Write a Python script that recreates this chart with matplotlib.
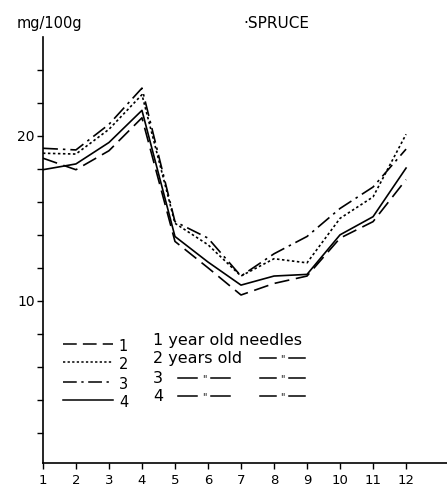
import matplotlib
matplotlib.use("Agg")
import matplotlib.pyplot as plt

# months and needle-age series (mg/100g)
months = [1, 2, 3, 4, 5, 6, 7, 8, 9, 10, 11, 12]
needles_1 = [18.65, 17.95, 19.1, 21.1, 13.6, 12.0, 10.35, 11.05, 11.5, 13.8, 14.8, 17.35]
needles_2 = [18.95, 18.9, 20.4, 22.5, 14.7, 13.4, 11.5, 12.55, 12.3, 15.0, 16.3, 20.1]
needles_3 = [19.25, 19.15, 20.7, 22.9, 14.8, 13.8, 11.5, 12.85, 13.9, 15.6, 16.9, 19.2]
needles_4 = [17.95, 18.3, 19.6, 21.55, 13.9, 12.35, 10.95, 11.5, 11.6, 14.0, 15.1, 18.05]
ytick_vals = [2, 4, 6, 8, 10, 12, 14, 16, 18, 20, 22, 24]
ytick_labels = ["", "", "", "", "10", "", "", "", "", "20", "", ""]

styles = [(0, (9, 4)), (0, (1.5, 1.5)), (0, (9, 3, 1.5, 3)), "-"]

fig = plt.figure(figsize=(4.47, 4.87), dpi=100)
ax = fig.add_axes([0.096, 0.049, 0.904, 0.875])

for vals, ls in zip([needles_1, needles_2, needles_3, needles_4], styles):
    ax.plot(months, vals, color="black", linestyle=ls, linewidth=1.2)

ax.set_xlim(1, 13.24)
ax.set_ylim(0.15, 26)
ax.spines["top"].set_visible(False)
ax.spines["right"].set_visible(False)
ax.spines["left"].set_linewidth(1.2)
ax.spines["bottom"].set_linewidth(1.2)
ax.set_xticks(months)
ax.set_xticklabels([str(m) for m in months], fontsize=9.5)
ax.set_yticks(ytick_vals)
ax.set_yticklabels(ytick_labels, fontsize=10)
ax.tick_params(axis="both", direction="out", length=4, width=1, pad=2)
ax.tick_params(axis="x", pad=4)

# key drawn inside the plot
key_y = [7.39, 6.3, 5.1, 4.0]
for i, (ky, ls) in enumerate(zip(key_y, styles)):
    ax.plot([1.61, 3.12], [ky, ky], color="black", linestyle=ls, linewidth=1.1)
    ax.text(3.3, ky - 0.15, str(i + 1), fontsize=10.5, va="center")

ax.text(4.33, 7.6, "1 year old needles", fontsize=11.5, va="center")
ax.text(4.33, 6.5, "2 years old", fontsize=11.5, va="center")
ax.text(4.33, 5.3, "3", fontsize=11.5, va="center")
ax.text(4.33, 4.2, "4", fontsize=11.5, va="center")

def ditto(x0, x1, y):
    xm = (x0 + x1) / 2
    ax.plot([x0, xm - 0.2], [y, y], color="black", linewidth=1.1)
    ax.plot([xm + 0.2, x1], [y, y], color="black", linewidth=1.1)
    ax.text(xm, y - 0.05, '"', fontsize=7, ha="center", va="center")

ditto(7.58, 8.94, 6.5)
ditto(5.09, 6.67, 5.3)
ditto(7.58, 8.94, 5.3)
ditto(5.09, 6.67, 4.2)
ditto(7.58, 8.94, 4.2)

fig.text(0.038, 0.952, "mg/100g", fontsize=10.5, va="center")
fig.text(0.545, 0.952, "\u00b7SPRUCE", fontsize=11, va="center")

fig.savefig("out.png", dpi=100)
